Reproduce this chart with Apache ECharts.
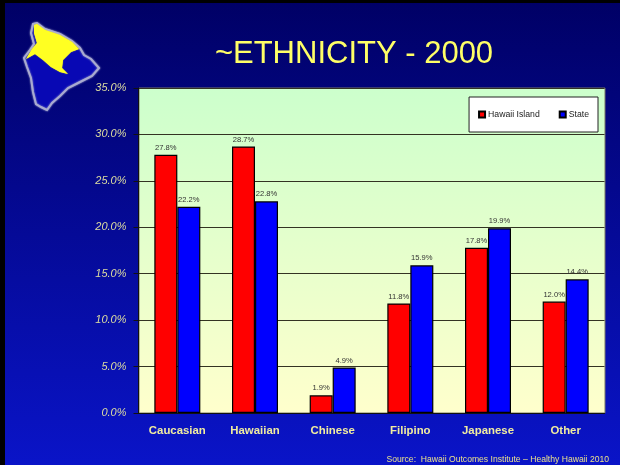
<!DOCTYPE html>
<html><head><meta charset="utf-8">
<style>html,body{margin:0;padding:0;background:#000}#c{width:620px;height:465px}</style>
<script src="https://cdn.jsdelivr.net/npm/echarts@6/dist/echarts.min.js"></script>
</head><body><div id="c"></div>
<script>
const categories = ['Caucasian','Hawaiian','Chinese','Filipino','Japanese','Other'];
const hawaiiIsland = [27.8,28.7,1.9,11.8,17.8,12.0];
const state = [22.2,22.8,4.9,15.9,19.9,14.4];
const titleText = '~ETHNICITY - 2000';
const sourceText = 'Source:  Hawaii Outcomes Institute \u2013 Healthy Hawaii 2010';
const font = '"Liberation Sans", Arial, sans-serif';
const chart = echarts.init(document.getElementById('c'), null, {renderer:'canvas'});
const V = (a,b)=> new echarts.graphic.LinearGradient(0,0,0,1,[{offset:0,color:a},{offset:1,color:b}]);
const barSeries = (name,data,color)=>({
  name, type:'bar', data, barWidth:23, barGap:'0%',
  itemStyle:{color, borderColor:'#000', borderWidth:1.2},
  label:{show:true, position:'top', distance:3, fontFamily:font, fontSize:7.6, color:'#333',
         formatter:p=>p.value.toFixed(1)+'%'}
});
chart.setOption({
  animation:false,
  backgroundColor:'transparent',
  graphic:[
    {type:'rect', z:-10, shape:{x:5,y:3,width:615,height:462}, style:{fill:V('#000066','#0a14c8')}},
    {type:'rect', z:-9, shape:{x:139,y:88,width:466,height:325},
      style:{fill:V('#ccffcc','#ffffcc'), stroke:'#777766', lineWidth:1}},
    {type:'polygon', z:5, shape:{points:[[33,24],[37,23],[45,29],[60,34],[72,41],[80,48],[84,55],[91,59],[99,68],[92,76],[80,82],[68,88],[60,96],[52,103],[47,110],[41,107],[36,104],[33,92],[31,78],[27,67],[24,58],[30,50],[34,44],[31,33]]},
      style:{fill:'#0808b4', stroke:'#a9abd0', lineWidth:2, shadowBlur:2, shadowColor:'#a9abd0'}},
    {type:'polygon', z:6, shape:{points:[[34,25],[37,24],[45,30],[60,35],[72,42],[79,49],[71,52],[63,60],[62,68],[68,74],[60,72],[51,67],[43,60],[35,54],[26,59],[32,49],[37,43],[34,33]]},
      style:{fill:'#ffff22', shadowBlur:1, shadowColor:'#ffff22'}},
    {type:'text', x:354, y:54, z:10, style:{text:titleText, fill:'#ffff66', font:'31px '+font, textAlign:'center', textVerticalAlign:'middle'}},
    {type:'text', x:609, y:460, z:10, style:{text:sourceText, fill:'#e8e08c', font:'8.6px '+font, textAlign:'right', textVerticalAlign:'middle'}}
  ],
  grid:{left:138.5, top:88, width:466, height:325, containLabel:false},
  legend:{
    data:['Hawaii Island','State'], right:22, top:97, orient:'horizontal',
    itemWidth:6, itemHeight:6, itemGap:19, icon:'rect',
    backgroundColor:'#fff', borderColor:'#222', borderWidth:1,
    padding:[13,9,13,9],
    textStyle:{fontFamily:font, fontSize:8.7, color:'#222', padding:[0,0,0,-2]}
  },
  xAxis:{
    type:'category', data:categories,
    axisLine:{lineStyle:{color:'#111',width:1}}, axisTick:{show:false},
    axisLabel:{fontFamily:font, fontSize:11.4, fontWeight:'bold', color:'#f0eca0', margin:12}
  },
  yAxis:{
    type:'value', min:0, max:35, interval:5,
    axisLine:{show:true,lineStyle:{color:'#111',width:1}},
    axisTick:{show:true,length:5,lineStyle:{color:'#111'}},
    axisLabel:{fontFamily:font, fontSize:11, fontStyle:'italic', color:'#dcdca0', margin:12, padding:[4,0,0,0],
               formatter:v=>v.toFixed(1)+'%'},
    splitLine:{show:true,lineStyle:{color:'#333322',width:1}}
  },
  series:[barSeries('Hawaii Island',hawaiiIsland,'#ff0000'), barSeries('State',state,'#0000ff')]
});
</script></body></html>
